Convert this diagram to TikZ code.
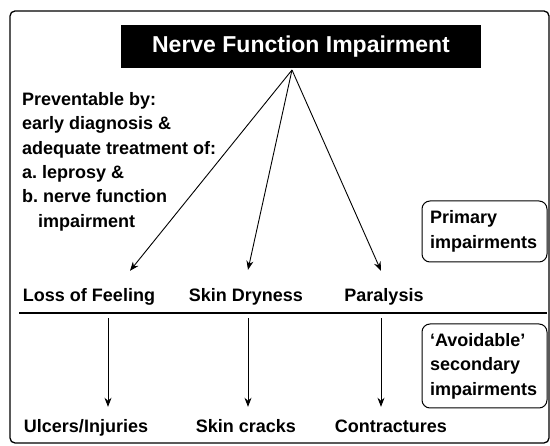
\documentclass[tikz,border=0pt]{standalone}
\usepackage{fontspec}
\setmainfont{Liberation Sans}
\usepackage{tikz}
\usepackage{xcolor}
\usetikzlibrary{arrows.meta}

\begin{document}
\begin{tikzpicture}[x=1pt,y=-1pt,
  every node/.style={font=\bfseries\fontsize{18}{24.4}\selectfont},
  lbl/.style={inner sep=0pt,anchor=base,text height=13pt,text depth=4pt},
  sidebox/.style={draw,line width=1pt,rounded corners=8pt,align=left,inner sep=0pt,
    minimum width=125pt,text width=109pt},
  arr/.style={line width=0.9pt,-{Stealth[length=9pt,width=7pt]}}]
\useasboundingbox (0,0) rectangle (550,446);
\draw[line width=1.3pt,rounded corners=5pt] (10,11) rectangle (549,443);
\node[fill=black,text=white,minimum width=360pt,minimum height=43pt,inner sep=0pt,
  font=\bfseries\fontsize{23}{26}\selectfont] (nfi) at (301,47) {Nerve Function Impairment};
\coordinate (apex) at (292,70);
\node[anchor=north west,inner sep=0pt,align=left] (prev) at (22,92)
  {Preventable by:\\early diagnosis \&\\adequate treatment of:\\a.\ leprosy \&\\b.\ nerve function\\\hspace{16pt}impairment};
% primary impairments
\node[lbl] (loss) at (89,302) {Loss of Feeling};
\node[lbl] (dry) at (246,302) {Skin Dryness};
\node[lbl] (para) at (384,302) {Paralysis};
\draw[arr] (apex) -- ([xshift=41pt,yshift=18pt]loss.north);
\draw[arr] (apex) -- ([xshift=2pt,yshift=19pt]dry.north);
\draw[arr] (apex) -- ([xshift=-3pt,yshift=18pt]para.north);
\node[sidebox,minimum height=61pt] (prim) at (484.5,231.5) {Primary\\impairments};
\draw[line width=1.3pt] (19,313) -- (547,313);
% secondary impairments
\node[lbl] (ulcer) at (86,433) {Ulcers/Injuries};
\node[lbl] (crack) at (246,433) {Skin cracks};
\node[lbl] (contr) at (391,433) {Contractures};
\draw[arr] ([xshift=19pt,yshift=-12pt]loss.south) -- ([xshift=22pt,yshift=13pt]ulcer.north);
\draw[arr] ([xshift=2pt,yshift=-12pt]dry.south) -- ([xshift=2pt,yshift=13pt]crack.north);
\draw[arr] ([xshift=-3pt,yshift=-12pt]para.south) -- ([xshift=-10pt,yshift=13pt]contr.north);
\node[sidebox,minimum height=84pt] (sec) at (484.5,366) {‘Avoidable’\\secondary\\impairments};
\end{tikzpicture}
\end{document}
